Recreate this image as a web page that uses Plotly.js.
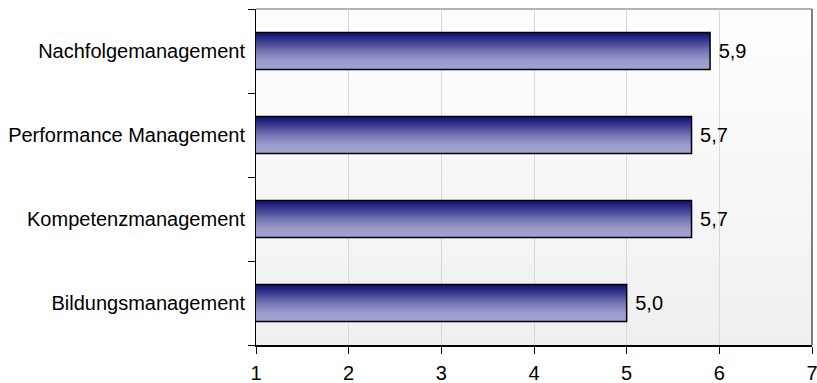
<!DOCTYPE html>
<html>
<head>
<meta charset="utf-8">
<script src="https://cdn.plot.ly/plotly-3.0.1.min.js"></script>
<style>html,body{margin:0;padding:0;background:#fff;}#chart{width:817px;height:383px;}</style>
</head>
<body>
<div id="chart"></div>
<script>
const categories = ['Bildungsmanagement', 'Kompetenzmanagement', 'Performance Management', 'Nachfolgemanagement'];
const values = [5.0, 5.7, 5.7, 5.9];
const xTicks = [1, 2, 3, 4, 5, 6, 7];

const fam = 'Liberation Sans, Arial, Helvetica, sans-serif';

const trace = {
  type: 'bar',
  orientation: 'h',
  y: categories,
  x: values,
  width: 0.44,
  marker: {color: '#6a6aaa', line: {color: '#000', width: 1.5}},
  texttemplate: ' %{x:.1f}',
  textposition: 'outside',
  textfont: {family: fam, size: 20, color: '#000'},
  cliponaxis: true,
  hoverinfo: 'none'
};

const layout = {
  width: 817, height: 383,
  margin: {l: 256, r: 5, t: 9, b: 38},
  paper_bgcolor: '#ffffff',
  plot_bgcolor: '#f6f6f6',
  separators: ', ',
  font: {family: fam, size: 20, color: '#000'},
  showlegend: false,
  xaxis: {
    range: [1, 7],
    tickvals: xTicks,
    ticks: 'outside', ticklen: 7, tickcolor: '#000',
    ticklabelstandoff: 2,
    ticklabeloverflow: 'allow',
    showline: true, linecolor: '#000', linewidth: 1.5,
    showgrid: true, gridcolor: '#d9d9d9', gridwidth: 1,
    zeroline: false,
    tickfont: {family: fam, size: 20, color: '#000'}
  },
  yaxis: {
    type: 'category',
    tickson: 'boundaries',
    ticks: 'outside', ticklen: 7, tickcolor: '#000',
    showline: true, linecolor: '#000', linewidth: 1.5,
    showgrid: false,
    ticksuffix: ' ',
    tickfont: {family: fam, size: 20, color: '#000'}
  },
  shapes: [
    {type: 'line', xref: 'paper', yref: 'paper', x0: 0, x1: 1, y0: 1, y1: 1, line: {color: '#999', width: 1.5}, layer: 'below'},
    {type: 'line', xref: 'paper', yref: 'paper', x0: 1, x1: 1, y0: 0, y1: 1, line: {color: '#555', width: 1.5}, layer: 'above'}
  ]
};

Plotly.newPlot('chart', [trace], layout, {staticPlot: true}).then(function (gd) {
  const NS = 'http://www.w3.org/2000/svg';
  const svg = gd.querySelector('.main-svg');
  let defs = svg.querySelector('defs');
  if (!defs) { defs = document.createElementNS(NS, 'defs'); svg.insertBefore(defs, svg.firstChild); }
  function grad(id, stops) {
    const g = document.createElementNS(NS, 'linearGradient');
    g.setAttribute('id', id);
    g.setAttribute('x1', '0'); g.setAttribute('y1', '0');
    g.setAttribute('x2', '0'); g.setAttribute('y2', '1');
    stops.forEach(function (s) {
      const st = document.createElementNS(NS, 'stop');
      st.setAttribute('offset', s[0]);
      st.setAttribute('stop-color', s[1]);
      g.appendChild(st);
    });
    defs.appendChild(g);
  }
  grad('barGrad', [[0, '#0e0e74'], [0.2, '#34348a'], [0.5, '#7474b2'], [0.75, '#9a9acb'], [1, '#a4a4d4']]);
  grad('bgGrad', [[0, '#ffffff'], [1, '#efefef']]);
  gd.querySelectorAll('.barlayer .point path').forEach(function (p) { p.style.fill = 'url(#barGrad)'; });
  const bg = gd.querySelector('.bglayer rect.bg');
  if (bg) bg.style.fill = 'url(#bgGrad)';
});
</script>
</body>
</html>
